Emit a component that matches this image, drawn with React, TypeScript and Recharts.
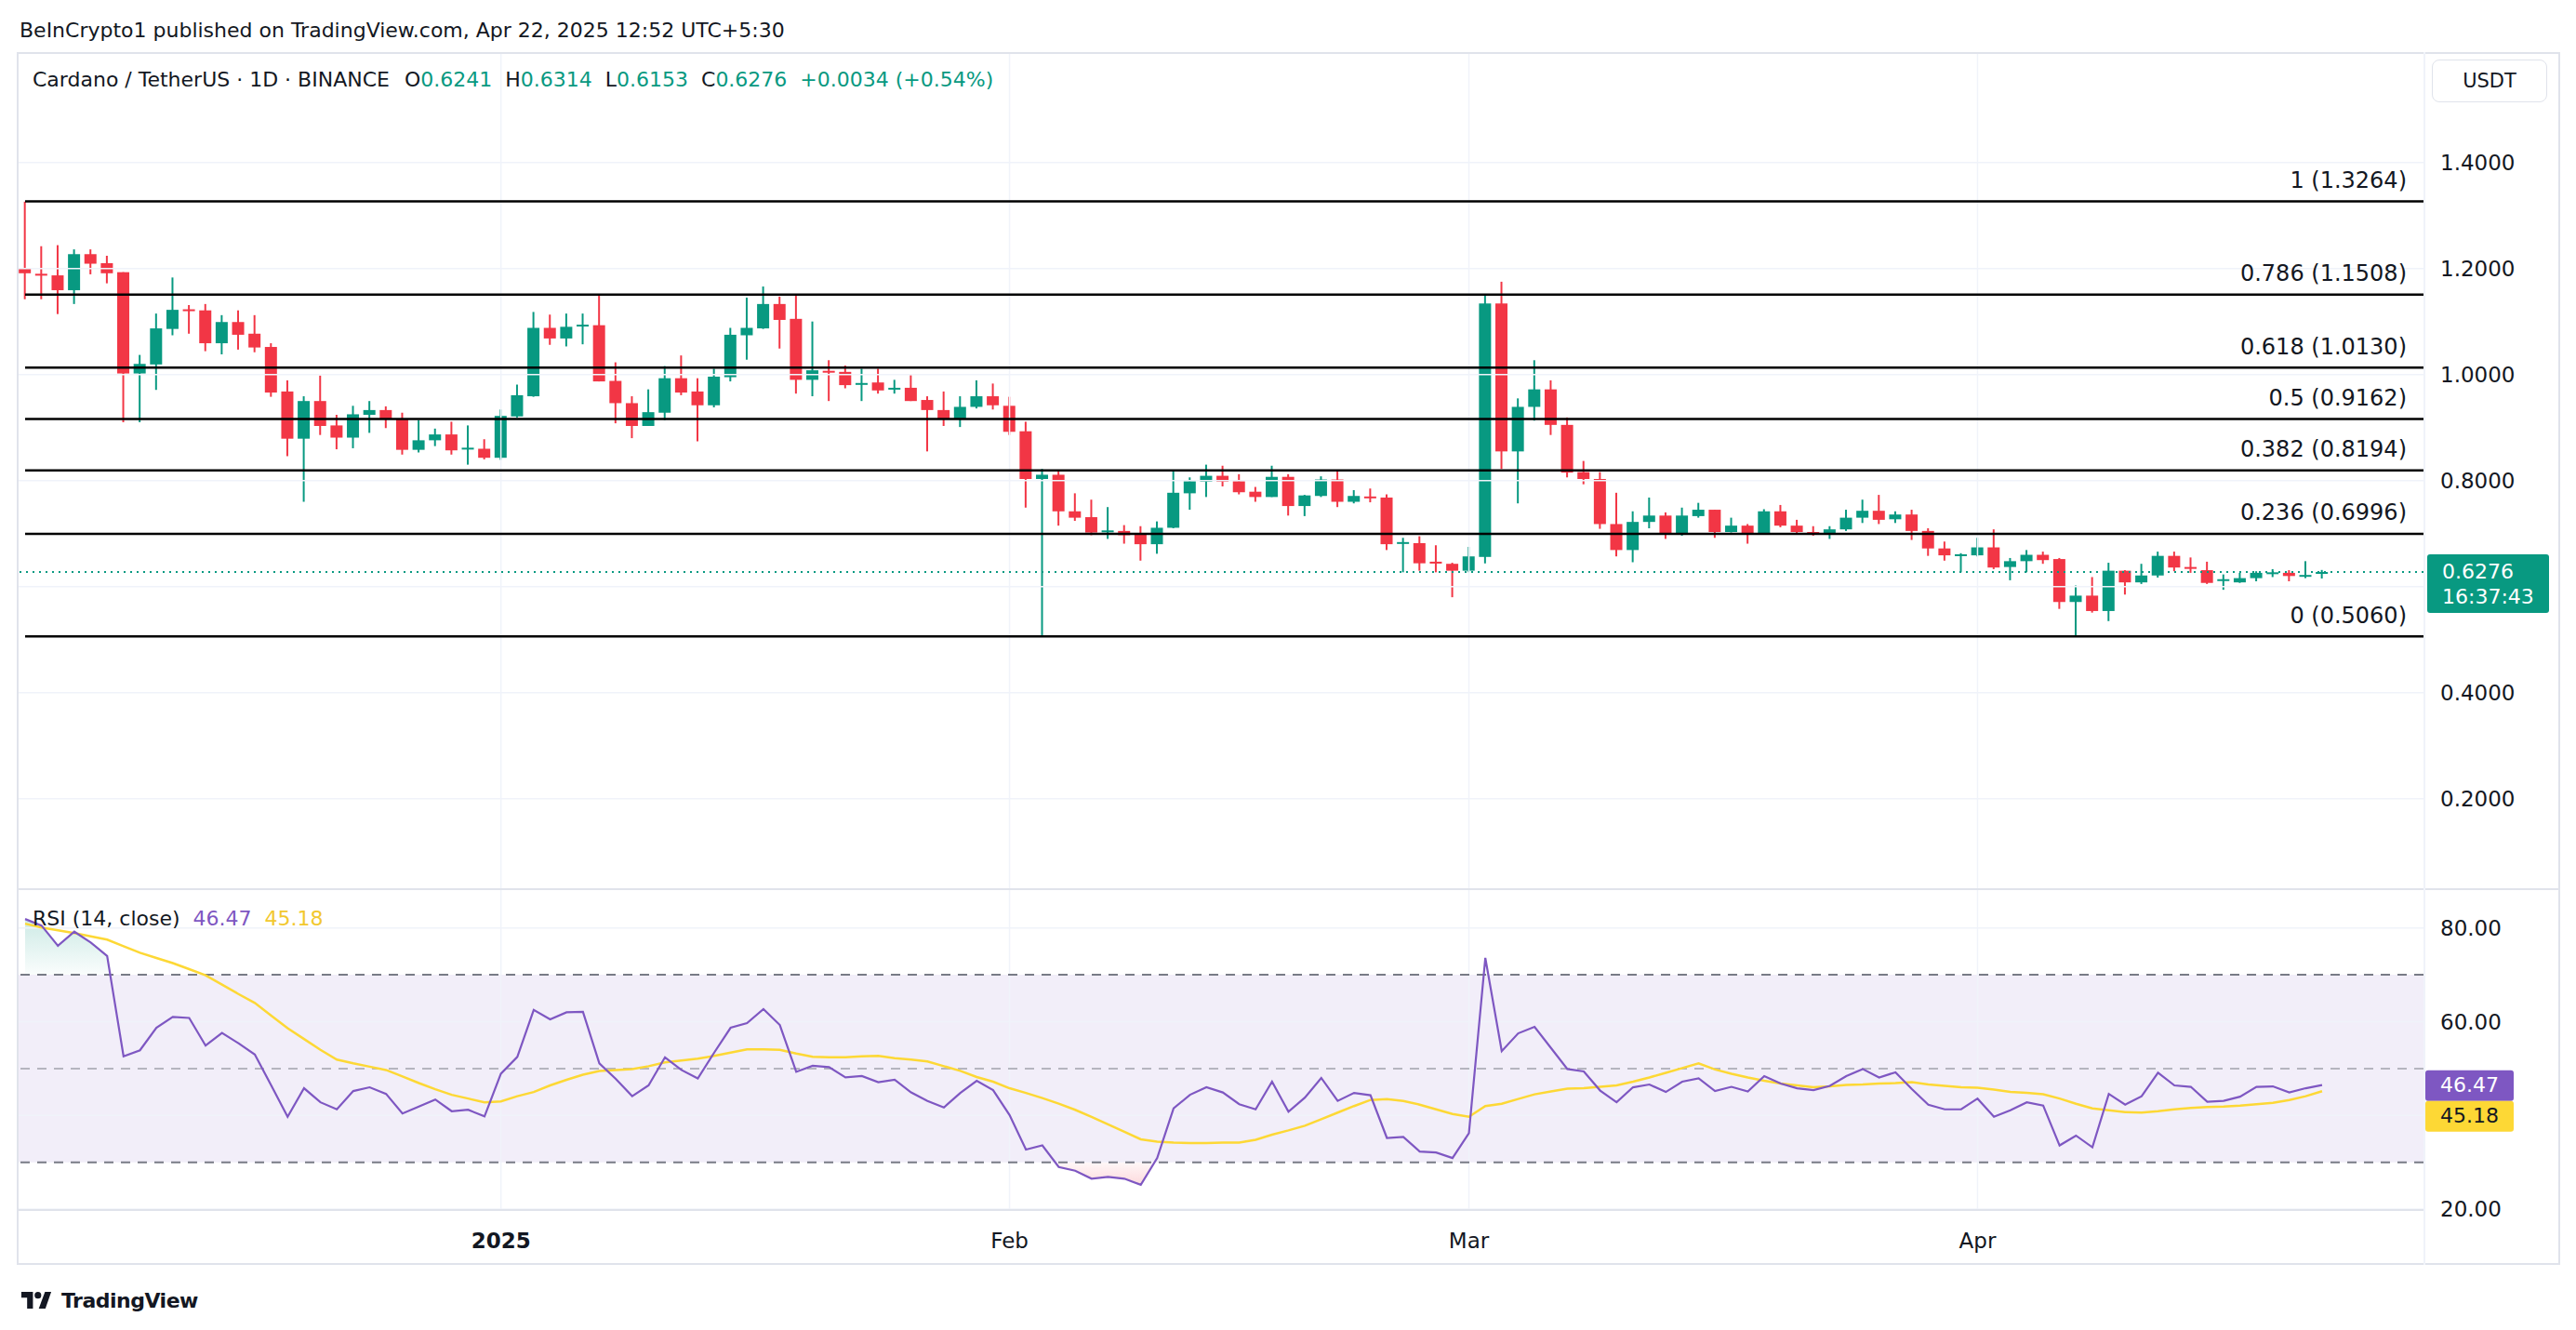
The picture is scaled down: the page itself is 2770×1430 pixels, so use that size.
import React from 'react';
import { ComposedChart, Bar, Line, Area, XAxis, YAxis, ReferenceLine, ReferenceArea } from 'recharts';

const UP = '#089981';
const DOWN = '#f23645';
const TEXT = '#131722';
const GRID = '#f0f3fa';
const BORDER = '#e0e3eb';
const RSI_COLOR = '#7e57c2';
const MA_COLOR = '#fdd835';
const FONT = '"DejaVu Sans", sans-serif';

// ADA/USDT daily, 3 Dec 2024 -> 22 Apr 2025
const opens = [
  1.201, 1.190, 1.187, 1.159, 1.227, 1.210, 1.193, 1.002, 1.019, 1.086,
  1.123, 1.121, 1.059, 1.099, 1.077, 1.052, 0.968, 0.879, 0.950, 0.904,
  0.881, 0.924, 0.933, 0.916, 0.858, 0.876, 0.887, 0.860, 0.860, 0.843,
  0.921, 0.959, 1.088, 1.068, 1.092, 1.093, 0.988, 0.946, 0.903, 0.928,
  0.993, 0.968, 0.942, 0.995, 1.074, 1.087, 1.133, 1.105, 0.990, 1.007,
  1.005, 0.981, 0.985, 0.972, 0.975, 0.952, 0.933, 0.916, 0.939, 0.959,
  0.941, 0.893, 0.803, 0.811, 0.742, 0.731, 0.704, 0.705, 0.698, 0.680,
  0.711, 0.776, 0.798, 0.809, 0.799, 0.779, 0.769, 0.807, 0.752, 0.771,
  0.802, 0.760, 0.770, 0.768, 0.681, 0.682, 0.647, 0.643, 0.630, 0.656,
  1.134, 0.855, 0.939, 0.972, 0.905, 0.816, 0.803, 0.718, 0.669, 0.722,
  0.734, 0.700, 0.733, 0.745, 0.703, 0.715, 0.700, 0.742, 0.715, 0.703,
  0.699, 0.708, 0.730, 0.743, 0.727, 0.736, 0.705, 0.672, 0.660, 0.659,
  0.674, 0.637, 0.648, 0.660, 0.652, 0.571, 0.583, 0.554, 0.630, 0.608,
  0.621, 0.658, 0.637, 0.631, 0.611, 0.608, 0.616, 0.624, 0.626, 0.620,
  0.6241,
];
const highs = [
  1.326, 1.242, 1.244, 1.236, 1.236, 1.224, 1.193, 1.037, 1.115, 1.183,
  1.131, 1.133, 1.112, 1.121, 1.112, 1.059, 0.989, 0.959, 0.998, 0.924,
  0.941, 0.950, 0.940, 0.928, 0.914, 0.898, 0.911, 0.904, 0.878, 0.934,
  0.981, 1.118, 1.113, 1.115, 1.115, 1.152, 1.023, 0.959, 0.972, 1.016,
  1.036, 0.993, 1.011, 1.088, 1.145, 1.166, 1.147, 1.151, 1.100, 1.027,
  1.017, 1.011, 1.011, 0.990, 0.999, 0.959, 0.968, 0.959, 0.989, 0.983,
  0.958, 0.911, 0.822, 0.817, 0.776, 0.764, 0.750, 0.716, 0.714, 0.723,
  0.820, 0.806, 0.830, 0.828, 0.812, 0.788, 0.828, 0.812, 0.773, 0.808,
  0.817, 0.782, 0.785, 0.774, 0.692, 0.695, 0.678, 0.645, 0.675, 1.149,
  1.175, 0.955, 1.027, 0.989, 0.919, 0.837, 0.816, 0.777, 0.742, 0.768,
  0.740, 0.749, 0.758, 0.745, 0.730, 0.718, 0.746, 0.754, 0.726, 0.714,
  0.714, 0.745, 0.764, 0.773, 0.742, 0.745, 0.710, 0.685, 0.663, 0.692,
  0.708, 0.654, 0.669, 0.666, 0.654, 0.602, 0.618, 0.645, 0.631, 0.643,
  0.666, 0.666, 0.655, 0.647, 0.623, 0.626, 0.629, 0.633, 0.631, 0.648,
  0.6314,
];
const lows = [
  1.142, 1.142, 1.114, 1.133, 1.189, 1.172, 0.910, 0.910, 0.971, 1.074,
  1.077, 1.044, 1.038, 1.047, 1.042, 0.958, 0.846, 0.760, 0.886, 0.859,
  0.861, 0.890, 0.899, 0.849, 0.853, 0.865, 0.849, 0.830, 0.840, 0.839,
  0.919, 0.958, 1.056, 1.053, 1.057, 0.987, 0.908, 0.880, 0.903, 0.914,
  0.961, 0.874, 0.938, 0.987, 1.028, 1.086, 1.049, 0.964, 0.959, 0.950,
  0.974, 0.950, 0.964, 0.964, 0.950, 0.855, 0.903, 0.901, 0.936, 0.934,
  0.886, 0.749, 0.506, 0.715, 0.724, 0.697, 0.690, 0.681, 0.649, 0.662,
  0.710, 0.745, 0.769, 0.789, 0.774, 0.760, 0.769, 0.734, 0.733, 0.769,
  0.750, 0.757, 0.759, 0.669, 0.627, 0.630, 0.627, 0.580, 0.627, 0.644,
  0.822, 0.757, 0.913, 0.886, 0.806, 0.793, 0.709, 0.657, 0.646, 0.710,
  0.690, 0.696, 0.730, 0.692, 0.702, 0.681, 0.699, 0.712, 0.699, 0.696,
  0.690, 0.705, 0.720, 0.718, 0.720, 0.688, 0.658, 0.649, 0.627, 0.657,
  0.633, 0.612, 0.627, 0.643, 0.558, 0.508, 0.551, 0.535, 0.585, 0.605,
  0.617, 0.629, 0.626, 0.605, 0.594, 0.607, 0.610, 0.618, 0.610, 0.616,
  0.6153,
];
const closes = [
  1.191, 1.187, 1.159, 1.227, 1.209, 1.191, 1.002, 1.020, 1.087, 1.122,
  1.121, 1.059, 1.099, 1.075, 1.051, 0.966, 0.879, 0.950, 0.903, 0.881,
  0.925, 0.933, 0.916, 0.858, 0.876, 0.887, 0.857, 0.862, 0.843, 0.922,
  0.961, 1.088, 1.068, 1.090, 1.094, 0.987, 0.946, 0.903, 0.929, 0.993,
  0.966, 0.942, 0.996, 1.075, 1.088, 1.133, 1.103, 0.990, 1.008, 1.005,
  0.980, 0.984, 0.970, 0.975, 0.950, 0.933, 0.916, 0.939, 0.959, 0.942,
  0.892, 0.803, 0.811, 0.742, 0.730, 0.702, 0.706, 0.697, 0.680, 0.711,
  0.777, 0.799, 0.809, 0.798, 0.778, 0.769, 0.807, 0.752, 0.772, 0.802,
  0.760, 0.771, 0.767, 0.680, 0.684, 0.644, 0.645, 0.630, 0.657, 1.134,
  0.855, 0.939, 0.972, 0.905, 0.815, 0.803, 0.718, 0.669, 0.722, 0.734,
  0.700, 0.734, 0.745, 0.703, 0.715, 0.700, 0.742, 0.715, 0.703, 0.699,
  0.708, 0.730, 0.743, 0.726, 0.736, 0.705, 0.672, 0.659, 0.661, 0.674,
  0.636, 0.648, 0.660, 0.650, 0.571, 0.583, 0.554, 0.630, 0.608, 0.621,
  0.658, 0.636, 0.635, 0.607, 0.614, 0.616, 0.626, 0.627, 0.620, 0.622,
  0.6276,
];
const rsiValues = [
  81.9, 80.5, 76.2, 79.2, 76.9, 74.0, 52.6, 53.9, 58.7, 61.0,
  60.8, 54.9, 57.6, 55.4, 53.0, 46.4, 39.7, 45.8, 42.8, 41.3,
  45.2, 46.0, 44.6, 40.4, 41.9, 43.4, 40.9, 41.2, 39.8, 48.9,
  52.5, 62.5, 60.5, 62.0, 62.1, 51.1, 47.8, 44.1, 46.4, 52.4,
  49.7, 47.9, 53.4, 58.7, 59.7, 62.7, 59.3, 49.3, 50.6, 50.3,
  48.1, 48.4, 47.1, 47.6, 44.9, 43.1, 41.7, 44.8, 47.4, 45.4,
  40.1, 32.7, 33.6, 29.0, 28.2, 26.5, 26.9, 26.5, 25.2, 30.9,
  41.5, 44.4, 46.0, 44.9, 42.4, 41.3, 47.2, 40.8, 43.8, 48.0,
  43.1, 44.8, 44.3, 35.2, 35.4, 32.3, 32.1, 30.9, 36.2, 73.6,
  53.7, 57.5, 58.9, 54.4, 49.9, 49.4, 45.3, 42.8, 46.0, 46.6,
  45.0, 47.2, 47.9, 45.2, 46.1, 45.1, 48.4, 46.8, 45.8, 45.4,
  46.3, 48.4, 49.9, 48.1, 49.2, 45.6, 42.3, 41.3, 41.3, 43.6,
  39.7, 41.1, 42.8, 42.1, 33.6, 35.7, 33.2, 44.6, 42.3, 44.1,
  49.1, 46.4, 46.1, 42.9, 43.1, 44.0, 46.1, 46.2, 44.9, 45.8,
  46.47,
];
const rsiMa = [
  80.9, 80.1, 79.5, 78.9, 78.2, 77.5, 76.1, 74.7, 73.6, 72.5,
  71.2, 69.9, 67.9, 65.9, 64.0, 61.3, 58.6, 56.3, 54.0, 51.9,
  51.1, 50.4, 49.7, 48.3, 46.9, 45.6, 44.4, 43.6, 42.8, 43.0,
  44.1, 45.0, 46.4, 47.6, 48.7, 49.5, 49.7, 49.9, 50.5, 51.3,
  51.7, 52.1, 52.7, 53.4, 54.1, 54.1, 54.0, 53.2, 52.5, 52.4,
  52.4, 52.6, 52.7, 52.2, 51.9, 51.5, 50.5, 49.5, 48.2, 47.2,
  45.8, 44.8, 43.7, 42.5, 41.2, 39.7, 38.1, 36.5, 34.9, 34.4,
  34.2, 34.1, 34.1, 34.2, 34.2, 34.8, 35.9, 36.8, 37.8, 39.2,
  40.6, 42.0, 43.3, 43.5, 43.1, 42.3, 41.3, 40.3, 39.7, 42.0,
  42.5, 43.5, 44.5, 45.1, 45.7, 45.8, 46.1, 46.4, 47.2, 48.1,
  49.1, 50.1, 51.1, 49.8, 48.9, 48.1, 47.4, 46.8, 46.4, 46.0,
  46.2, 46.5, 46.6, 46.8, 46.9, 47.1, 46.6, 46.3, 46.0, 45.9,
  45.5, 45.0, 44.8, 44.5, 43.6, 42.5, 41.5, 41.1, 40.7, 40.6,
  40.9, 41.3, 41.6, 41.8, 41.9, 42.1, 42.4, 42.7, 43.3, 44.1,
  45.18,
];

const monthTicks = [29, 60, 88, 119];
const monthLabels = ['2025', 'Feb', 'Mar', 'Apr'];
const priceTicks = [0.2, 0.4, 0.8, 1.0, 1.2, 1.4];
const priceGrid = [0.2, 0.4, 0.6, 0.8, 1.0, 1.2, 1.4];
const rsiTicks = [20, 60, 80];
const rsiGrid = [20, 40, 60, 80];
const fibLevels = ['1', '0.786', '0.618', '0.5', '0.382', '0.236', '0'];
const fibPrices = [1.3264, 1.1508, 1.013, 0.9162, 0.8194, 0.6996, 0.506];

const lastClose = closes[closes.length - 1];
const lastRsi = rsiValues[rsiValues.length - 1];
const lastMa = rsiMa[rsiMa.length - 1];

const data = opens.map((open, i) => ({
  i,
  open,
  high: highs[i],
  low: lows[i],
  close: closes[i],
  rsi: rsiValues[i],
  ma: rsiMa[i],
}));

const CHART_W = 2735;
const AXIS_W = 147;
const PRICE_H = 897;
const RSI_PLOT_H = 345;
const TIME_H = 58;
const X_DOMAIN: [number, number] = [-0.51, 146.18];
const PRICE_DOMAIN: [number, number] = [0.0312, 1.6046];
const RSI_DOMAIN: [number, number] = [19.82, 88.27];

const rsiFrac = (v: number) => (RSI_DOMAIN[1] - v) / (RSI_DOMAIN[1] - RSI_DOMAIN[0]);

const Candle = (props: any) => {
  const { x, y, width, height, payload } = props;
  if (!payload || height == null) return null;
  const { open, close, high, low } = payload;
  const color = close >= open ? UP : DOWN;
  const top = height < 0 ? y + height : y;
  const h = Math.abs(height);
  const k = h / (high - low);
  const bTop = top + (high - Math.max(open, close)) * k;
  const bBot = top + (high - Math.min(open, close)) * k;
  const cx = x + width / 2;
  return (
    <g>
      <line x1={cx} x2={cx} y1={top} y2={top + h} stroke={color} strokeWidth={2} />
      <rect x={cx - 6.5} y={bTop} width={13} height={Math.max(bBot - bTop, 2)} fill={color} />
    </g>
  );
};

const FibLabel = (props: any) => {
  const { viewBox, text } = props;
  if (!viewBox) return null;
  return (
    <text x={viewBox.x + viewBox.width - 18} y={viewBox.y - 23} dy="0.35em" textAnchor="end"
      fill={TEXT} fontSize={24} fontFamily={FONT}>
      {text}
    </text>
  );
};

const PriceTag = (props: any) => {
  const { viewBox } = props;
  if (!viewBox) return null;
  const x = viewBox.x + viewBox.width + 4;
  const y = viewBox.y;
  return (
    <g>
      <rect x={x} y={y - 19} width={131} height={63} rx={3} fill={UP} />
      <text x={x + 16} y={y - 1} dy="0.35em" fill="#fff" fontSize={22} fontFamily={FONT}>{lastClose.toFixed(4)}</text>
      <text x={x + 16} y={y + 26} dy="0.35em" fill="#fff" fontSize={22} fontFamily={FONT}>16:37:43</text>
    </g>
  );
};

const RsiTags = (props: any) => {
  const { viewBox } = props;
  if (!viewBox) return null;
  const x = viewBox.x + viewBox.width + 2;
  const y = viewBox.y;
  return (
    <g>
      <rect x={x} y={y - 16} width={95} height={33} rx={3} fill={RSI_COLOR} />
      <text x={x + 16} y={y} dy="0.35em" fill="#fff" fontSize={22} fontFamily={FONT}>{lastRsi.toFixed(2)}</text>
      <rect x={x} y={y + 17} width={95} height={33} rx={3} fill={MA_COLOR} />
      <text x={x + 16} y={y + 33} dy="0.35em" fill={TEXT} fontSize={22} fontFamily={FONT}>{lastMa.toFixed(2)}</text>
    </g>
  );
};

const TimeTick = (props: any) => {
  const { x, y, payload } = props;
  const idx = monthTicks.indexOf(payload.value);
  return (
    <text x={x} y={y + 33} dy="0.35em" textAnchor="middle" fill={TEXT} fontSize={23}
      fontFamily={FONT} fontWeight={idx === 0 ? 700 : 400}>
      {monthLabels[idx]}
    </text>
  );
};

const axisTick = { fill: TEXT, fontSize: 23, fontFamily: FONT };

const abs = (left: number, top: number, extra: React.CSSProperties = {}): React.CSSProperties => ({
  position: 'absolute', left, top, ...extra,
});

export default function App() {
  return (
    <div style={{ position: 'absolute', left: 0, top: 0, width: 2770, height: 1430, background: '#fff', fontFamily: FONT, color: TEXT, overflow: 'hidden' }}>
      <div style={abs(21, 33, { transform: 'translateY(-50%)', fontSize: 22, lineHeight: 1 })}>
        BeInCrypto1 published on TradingView.com, Apr 22, 2025 12:52 UTC+5:30
      </div>

      <div style={abs(18, 58)}>
        <ComposedChart width={CHART_W} height={PRICE_H} data={data} margin={{ top: 0, right: 0, bottom: 0, left: 0 }}>
          <XAxis type="number" dataKey="i" domain={X_DOMAIN} allowDataOverflow hide />
          <YAxis orientation="right" width={AXIS_W} domain={PRICE_DOMAIN} allowDataOverflow ticks={priceTicks}
            interval={0} tickFormatter={(v: number) => v.toFixed(4)} tick={axisTick}
            tickLine={false} axisLine={false} tickSize={6} tickMargin={12} />
          {priceGrid.map((v) => (
            <ReferenceLine key={'pg' + v} y={v} stroke={GRID} strokeWidth={1.5} />
          ))}
          {monthTicks.map((t) => (
            <ReferenceLine key={'pv' + t} x={t} stroke={GRID} strokeWidth={1.5} />
          ))}
          {fibPrices.map((p, k) => (
            <ReferenceLine key={'fib' + k} segment={[{ x: 0, y: p }, { x: X_DOMAIN[1], y: p }]}
              stroke="#000" strokeWidth={2.5} ifOverflow="visible"
              label={<FibLabel text={`${fibLevels[k]} (${p.toFixed(4)})`} />} />
          ))}
          <ReferenceLine y={lastClose} stroke={UP} strokeWidth={2} strokeDasharray="2 5" label={<PriceTag />} />
          <Bar dataKey={(d: any) => [d.low, d.high]} shape={<Candle />} barSize={13} isAnimationActive={false} />
        </ComposedChart>
      </div>

      <div style={abs(18, 956)}>
        <ComposedChart width={CHART_W} height={RSI_PLOT_H + TIME_H} data={data} margin={{ top: 0, right: 0, bottom: 0, left: 0 }}>
          <defs>
            <linearGradient id="rsiFill" gradientUnits="userSpaceOnUse" x1={0} y1={0} x2={0} y2={RSI_PLOT_H}>
              <stop offset={0} stopColor={UP} stopOpacity={0.3} />
              <stop offset={rsiFrac(70)} stopColor={UP} stopOpacity={0.02} />
              <stop offset={rsiFrac(70)} stopColor={UP} stopOpacity={0} />
              <stop offset={rsiFrac(30)} stopColor={DOWN} stopOpacity={0} />
              <stop offset={rsiFrac(30)} stopColor={DOWN} stopOpacity={0.04} />
              <stop offset={1} stopColor={DOWN} stopOpacity={0.35} />
            </linearGradient>
          </defs>
          <XAxis type="number" dataKey="i" domain={X_DOMAIN} allowDataOverflow ticks={monthTicks} interval={0}
            height={TIME_H} tick={<TimeTick />} tickLine={false} axisLine={false} tickSize={0} tickMargin={0} />
          <YAxis orientation="right" width={AXIS_W} domain={RSI_DOMAIN} allowDataOverflow ticks={rsiTicks}
            interval={0} tickFormatter={(v: number) => v.toFixed(2)} tick={axisTick}
            tickLine={false} axisLine={false} tickSize={6} tickMargin={12} />
          <ReferenceArea y1={30} y2={70} fill={RSI_COLOR} fillOpacity={0.1} stroke="none" />
          {rsiGrid.map((v) => (
            <ReferenceLine key={'rg' + v} y={v} stroke={GRID} strokeWidth={1.5} />
          ))}
          {monthTicks.map((t) => (
            <ReferenceLine key={'rv' + t} x={t} stroke={GRID} strokeWidth={1.5} />
          ))}
          <ReferenceLine y={70} stroke="#787b86" strokeWidth={2} strokeDasharray="10 8" />
          <ReferenceLine y={50} stroke="#787b86" strokeOpacity={0.5} strokeWidth={2} strokeDasharray="10 8" />
          <ReferenceLine y={30} stroke="#787b86" strokeWidth={2} strokeDasharray="10 8" />
          <Area type="linear" dataKey="rsi" baseValue={50} stroke="none" fill="url(#rsiFill)" fillOpacity={1}
            isAnimationActive={false} activeDot={false} dot={false} />
          <Line type="linear" dataKey="ma" stroke={MA_COLOR} strokeWidth={2.5} dot={false} activeDot={false} isAnimationActive={false} />
          <Line type="linear" dataKey="rsi" stroke={RSI_COLOR} strokeWidth={2.2} dot={false} activeDot={false} isAnimationActive={false} />
          <ReferenceLine y={lastRsi} stroke="none" label={<RsiTags />} />
        </ComposedChart>
      </div>

      {/* legends */}
      <div style={abs(35, 86, { transform: 'translateY(-50%)', fontSize: 22, lineHeight: 1, whiteSpace: 'nowrap' })}>
        <span>Cardano / TetherUS · 1D · BINANCE</span>
        <span style={{ marginLeft: 16 }}>O<span style={{ color: UP }}>0.6241</span></span>
        <span style={{ marginLeft: 14 }}>H<span style={{ color: UP }}>0.6314</span></span>
        <span style={{ marginLeft: 14 }}>L<span style={{ color: UP }}>0.6153</span></span>
        <span style={{ marginLeft: 14 }}>C<span style={{ color: UP }}>0.6276</span></span>
        <span style={{ marginLeft: 14, color: UP }}>+0.0034 (+0.54%)</span>
      </div>
      <div style={abs(35, 988, { transform: 'translateY(-50%)', fontSize: 22, lineHeight: 1, whiteSpace: 'nowrap' })}>
        <span>RSI (14, close)</span>
        <span style={{ marginLeft: 14, color: RSI_COLOR }}>{lastRsi.toFixed(2)}</span>
        <span style={{ marginLeft: 14, color: '#f2c82e' }}>{lastMa.toFixed(2)}</span>
      </div>

      <div style={abs(2615, 64, { width: 124, height: 46, boxSizing: 'border-box', border: `1.5px solid ${BORDER}`, borderRadius: 8, fontSize: 21, display: 'flex', alignItems: 'center', justifyContent: 'center' })}>
        USDT
      </div>

      {/* frame & separators */}
      <div style={abs(18, 56, { width: 2735, height: 1304, boxSizing: 'border-box', border: `2px solid ${BORDER}` })} />
      <div style={abs(18, 955, { width: 2735, height: 2, background: BORDER })} />
      <div style={abs(18, 1300, { width: 2588, height: 2, background: BORDER })} />
      <div style={abs(2606, 56, { width: 2, height: 1304, background: GRID })} />

      {/* footer logo */}
      <div style={abs(20, 1398, { transform: 'translateY(-50%)', display: 'flex', alignItems: 'center', gap: 8 })}>
        <svg width={38} height={25} viewBox="0 0 36 28">
          <path d="M14 24H7V11H0V4h14v20z" fill={TEXT} />
          <circle cx={20} cy={8} r={4} fill={TEXT} />
          <path d="M29 24h-8l7.5-20h7.5L29 24z" fill={TEXT} />
        </svg>
        <span style={{ fontSize: 22, fontWeight: 700, letterSpacing: -0.5 }}>TradingView</span>
      </div>
    </div>
  );
}
